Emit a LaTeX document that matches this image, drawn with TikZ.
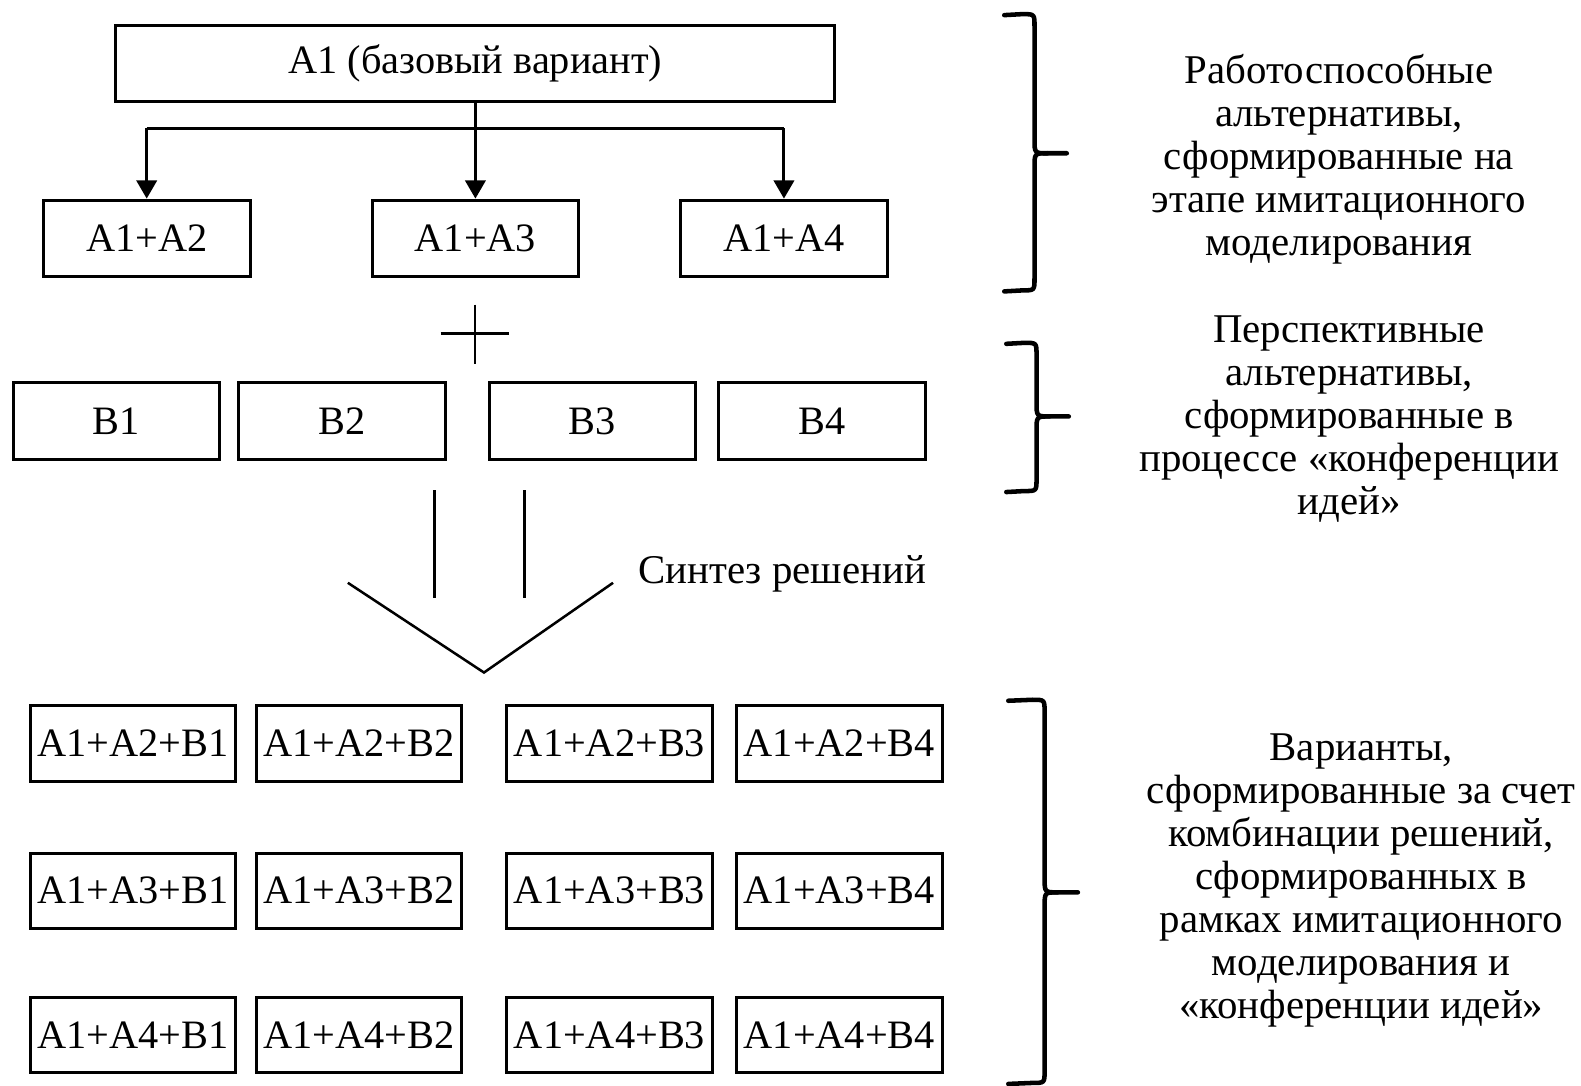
\documentclass[tikz,border=0pt]{standalone}
\usepackage{fontspec}
\setmainfont{Liberation Serif}
\usetikzlibrary{arrows.meta}

% right-hand curly brace: leg x, spine x, tip x, top y, tip y, bottom y
\newcommand\rightbrace[6]{%
  \draw[bracestyle] (#1,#4+1) -- (#2-12,#4) .. controls (#2,#4) .. (#2,#4+12)
    -- (#2,#5-14) .. controls (#2,#5) .. (#2+13,#5) -- (#3,#5);
  \draw[bracestyle] (#2+13,#5) .. controls (#2,#5) .. (#2,#5+14)
    -- (#2,#6-12) .. controls (#2,#6) .. (#2-12,#6) -- (#1,#6+1);}

\begin{document}
\begin{tikzpicture}[x=1pt,y=-1pt,
  box/.style={draw,line width=3pt,inner sep=0pt,minimum height=76pt,
    font=\fontsize{40}{44}\selectfont},
  smallbox/.style={box,minimum width=205pt},
  combo/.style={box,minimum width=204pt,minimum height=75pt},
  conn/.style={line width=3pt,line join=miter},
  tip/.style={-{Triangle[length=18pt,width=20pt]}},
  thin line/.style={line width=2.5pt},
  bracestyle/.style={line width=4.5pt,line cap=round,line join=round},
  note/.style={align=center,inner sep=0pt,font=\fontsize{40.5}{42.6}\selectfont}]
\useasboundingbox (0,0) rectangle (1568,1077);

% base variant and its working alternatives
\node[box,minimum width=713pt] (a1) at (471.5,63) {A1 (базовый вариант)};
\node[smallbox] (a2) at (145.5,236.5) {A1+A2};
\node[smallbox] (a3) at (471.5,236.5) {A1+A3};
\node[smallbox] (a4) at (777.5,236.5) {A1+A4};

\coordinate (split) at (471.5,127);
\draw[conn] (a1.south) -- (split);
\draw[conn,tip] (split -| a2) -- (a2.north);
\draw[conn,tip] (split) -- (a3.north);
\draw[conn,tip] (split -| a4) -- (a4.north);
\draw[conn] (split -| a2) -- (split -| a4);

% plus sign
\draw[thin line] (437,331) -- (505,331);
\draw[thin line] (471,302) -- (471,361);

% prospective alternatives
\node[smallbox,minimum height=77pt] (b1) at (115.5,417.5) {B1};
\node[smallbox,minimum height=77pt] (b2) at (339.5,417.5) {B2};
\node[smallbox,minimum height=77pt] (b3) at (587.5,417.5) {B3};
\node[smallbox,minimum height=77pt] (b4) at (815.5,417.5) {B4};

% synthesis arrow
\draw[thin line] (431,486) -- (431,593);
\draw[thin line] (520,486) -- (520,593);
\draw[thin line,line join=miter] (345,578) -- (480,667) -- (608,578);
\node[note,anchor=west] (synth) at (633,569) {Синтез решений};

% combined variants
\foreach \a [count=\r] in {2,3,4} {
  \foreach \b/\cx [count=\c] in {1/132,2/356,3/604.5,4/832.5} {
    \pgfmathsetmacro\cy{{737.5,883.5,1026.5}[\r-1]}
    \node[combo] (r\r c\c) at (\cx,\cy) {A1+A\a+B\b};
  }
}

% braces and their captions
\rightbrace{996}{1026}{1058}{14}{152}{288}
\rightbrace{998}{1028}{1060}{340}{413}{487}
\rightbrace{1000}{1036}{1069}{694}{885}{1074}

\node[note] (n1) at (1328,158) {Работоспособные\\альтернативы,\\сформированные на\\этапе имитационного\\моделирования};
\node[note] (n2) at (1338,416) {Перспективные\\альтернативы,\\сформированные в\\процессе «конференции\\идей»};
\node[note] (n3) at (1350,873) {Варианты,\\сформированные за счет\\комбинации решений,\\сформированных в\\рамках имитационного\\моделирования и\\«конференции идей»};
\end{tikzpicture}
\end{document}
